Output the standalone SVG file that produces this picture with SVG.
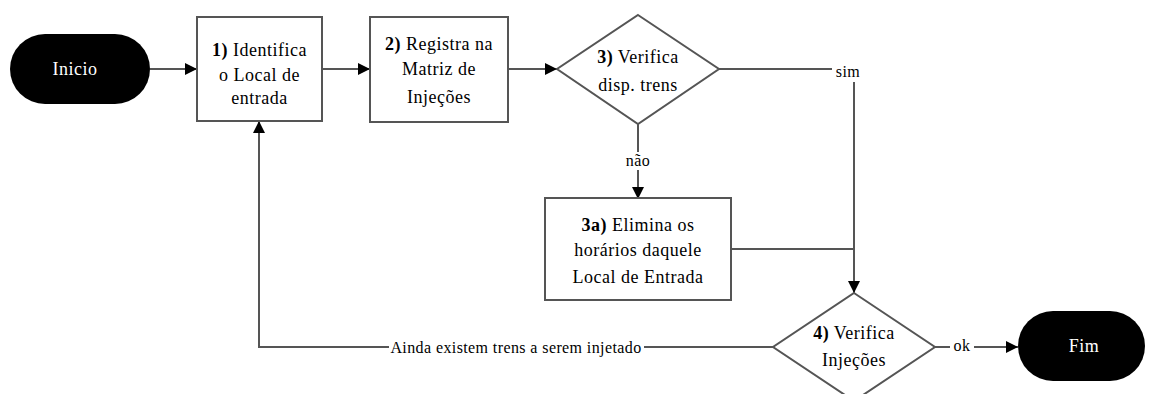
<svg xmlns="http://www.w3.org/2000/svg" width="1149" height="394" viewBox="0 0 1149 394">
<defs>
<marker id="ah" viewBox="0 0 12 12" refX="12" refY="6" markerWidth="12" markerHeight="12" markerUnits="userSpaceOnUse" orient="auto">
<path d="M0,0 L12,6 L0,12 Z" fill="#000"/>
</marker>
</defs>
<style>
.t{font-size:18px;letter-spacing:0.5px;fill:#000;text-anchor:middle}
.w{fill:#fff}
.b{font-weight:bold}
.box{fill:#fff;stroke:#555;stroke-width:2}
.pill{fill:#000}
.ln{fill:none;stroke:#555;stroke-width:2}
.bg{fill:#fff}
.lbl{font-size:16px;letter-spacing:0.4px;fill:#000;text-anchor:middle}
</style>
<rect width="1149" height="394" fill="#fff"/>
<g id="connectors">
<path class="ln" d="M150,69 H197" marker-end="url(#ah)"/>
<path class="ln" d="M322,69 H370" marker-end="url(#ah)"/>
<path class="ln" d="M508,69 H557" marker-end="url(#ah)"/>
<path class="ln" d="M719,69 H840"/>
<path class="ln" d="M854,82 V293" marker-end="url(#ah)"/>
<path class="ln" d="M638,124 V199" marker-end="url(#ah)"/>
<path class="ln" d="M731,249 H854"/>
<path class="ln" d="M773,347 H259 V121" marker-end="url(#ah)"/>
<path class="ln" d="M935,347 H1018" marker-end="url(#ah)"/>
<rect class="bg" x="832" y="63" width="32" height="16"/>
<rect class="bg" x="624" y="152" width="28" height="18"/>
<rect class="bg" x="389" y="339" width="255" height="18"/>
<rect class="bg" x="950" y="339" width="24" height="16"/>
<text class="lbl" x="848" y="77" font-family="Liberation Serif, DejaVu Serif, serif">sim</text>
<text class="lbl" x="638" y="166" font-family="Liberation Serif, DejaVu Serif, serif">não</text>
<text class="lbl" x="516" y="353" font-family="Liberation Serif, DejaVu Serif, serif">Ainda existem trens a serem injetado</text>
<text class="lbl" x="962" y="351" font-family="Liberation Serif, DejaVu Serif, serif">ok</text>
</g>
<g id="inicio">
<rect class="pill" x="10" y="34" width="140" height="70" rx="35"/>
<text class="t w" x="75" y="75" font-family="Liberation Serif, DejaVu Serif, serif">Inicio</text>
</g>
<g id="n1" font-family="Liberation Serif, DejaVu Serif, serif">
<rect class="box" x="197" y="17" width="125" height="104"/>
<text class="t" x="259.5" y="56"><tspan class="b">1)</tspan> Identifica</text>
<text class="t" x="259.5" y="81">o Local de</text>
<text class="t" x="259.5" y="104">entrada</text>
</g>
<g id="n2" font-family="Liberation Serif, DejaVu Serif, serif">
<rect class="box" x="370" y="17" width="138" height="105"/>
<text class="t" x="439" y="50"><tspan class="b">2)</tspan> Registra na</text>
<text class="t" x="439" y="75">Matriz de</text>
<text class="t" x="439" y="103">Injeções</text>
</g>
<g id="n3" font-family="Liberation Serif, DejaVu Serif, serif">
<polygon class="box" points="638,15 719,69 638,124 557,69"/>
<text class="t" x="638" y="63"><tspan class="b">3)</tspan> Verifica</text>
<text class="t" x="638" y="91">disp. trens</text>
</g>
<g id="n3a" font-family="Liberation Serif, DejaVu Serif, serif">
<rect class="box" x="545" y="198" width="186" height="102"/>
<text class="t" x="638" y="231"><tspan class="b">3a)</tspan> Elimina os</text>
<text class="t" x="638" y="256">horários daquele</text>
<text class="t" x="638" y="283">Local de Entrada</text>
</g>
<g id="n4" font-family="Liberation Serif, DejaVu Serif, serif">
<polygon class="box" points="854,293 935,347 854,401 773,347"/>
<text class="t" x="854" y="339"><tspan class="b">4)</tspan> Verifica</text>
<text class="t" x="854" y="366">Injeções</text>
</g>
<g id="fim">
<rect class="pill" x="1018" y="311" width="127" height="70" rx="35"/>
<text class="t w" x="1084" y="352" font-family="Liberation Serif, DejaVu Serif, serif">Fim</text>
</g>
</svg>
